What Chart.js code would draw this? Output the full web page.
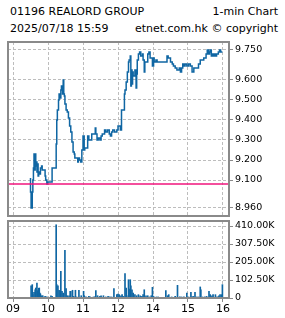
<!DOCTYPE html>
<html><head><meta charset="utf-8">
<script src="https://cdn.jsdelivr.net/npm/chart.js@4/dist/chart.umd.min.js"></script>
<style>
html,body{margin:0;padding:0;background:#fff;width:285px;height:318px;overflow:hidden}
#wrap{position:relative;width:285px;height:318px;font-family:"DejaVu Sans",sans-serif;}
.t{position:absolute;font-size:11px;color:#000;white-space:nowrap;line-height:13px}
canvas{position:absolute;left:0;top:0}
</style></head><body>
<div id="wrap">
<div class="t" style="left:10px;top:5px">01196 REALORD GROUP</div>
<div class="t" style="right:7px;top:5px">1-min Chart</div>
<div class="t" style="left:10px;top:22px">2025/07/18 15:59</div>
<div class="t" style="right:7px;top:22px">etnet.com.hk © copyright</div>
<canvas id="p" width="285" height="318"></canvas>
<canvas id="v" width="285" height="318"></canvas>
</div>
<script>
const priceTimes = ['09:30','09:31','09:33','09:34','09:35','09:36','09:37','09:38','09:39','09:40','09:41','09:42','09:43','09:44','09:45','09:47','09:49','09:50','09:55','09:56','09:58','09:59','10:07','10:14','10:15','10:16','10:18','10:19','10:21','10:22','10:23','10:25','10:26','10:27','10:28','10:29','10:31','10:33','10:35','10:37','10:39','10:41','10:43','10:45','10:46','10:51','10:52','10:54','10:56','10:58','11:00','11:02','11:03','11:08','11:10','11:15','11:21','11:22','11:24','11:26','11:29','11:31','11:33','11:37','11:39','11:42','11:45','11:47','11:49','11:51','11:54','11:58','12:00','13:04','13:06','13:11','13:12','13:14','13:16','13:18','13:19','13:21','13:22','13:23','13:24','13:25','13:26','13:29','13:31','13:32','13:33','13:35','13:37','13:39','13:42','13:43','13:45','13:46','13:51','13:53','13:55','13:59','14:01','14:02','14:05','14:07','14:24','14:26','14:30','14:33','14:35','14:38','14:41','14:45','14:47','14:49','14:51','14:53','14:55','14:58','15:01','15:04','15:07','15:10','15:18','15:21','15:27','15:31','15:33','15:35','15:37','15:38','15:40','15:42','15:43','15:45','15:47','15:49','15:52','15:54','15:56','15:58','15:59','16:00'];
const prices = [9.11,9.04,8.96,9.04,9.10,9.16,9.23,9.15,9.23,9.17,9.19,9.14,9.18,9.12,9.14,9.13,9.16,9.17,9.15,9.12,9.10,9.08,9.09,9.16,9.28,9.40,9.45,9.50,9.53,9.51,9.55,9.57,9.53,9.60,9.53,9.52,9.48,9.45,9.44,9.41,9.37,9.34,9.29,9.24,9.23,9.21,9.19,9.21,9.20,9.19,9.25,9.32,9.25,9.26,9.32,9.30,9.33,9.36,9.33,9.30,9.31,9.30,9.32,9.33,9.35,9.34,9.35,9.33,9.32,9.34,9.35,9.34,9.35,9.37,9.35,9.45,9.53,9.55,9.59,9.64,9.69,9.70,9.72,9.57,9.65,9.58,9.64,9.62,9.65,9.56,9.63,9.70,9.73,9.74,9.72,9.73,9.70,9.64,9.69,9.73,9.74,9.71,9.67,9.71,9.69,9.70,9.69,9.72,9.71,9.69,9.68,9.67,9.66,9.65,9.66,9.64,9.66,9.68,9.67,9.68,9.67,9.68,9.67,9.64,9.66,9.68,9.70,9.71,9.73,9.75,9.73,9.74,9.75,9.72,9.73,9.72,9.73,9.72,9.73,9.74,9.75,9.74,9.74];
const prevClose = 9.08;
const volTimes = ['09:31','09:33','09:34','09:36','09:38','09:39','09:41','09:42','09:44','09:45','09:46','09:47','09:49','09:51','09:55','09:58','10:05','10:07','10:14','10:15','10:17','10:19','10:21','10:22','10:24','10:26','10:29','10:31','10:33','10:36','10:38','10:39','10:42','10:44','10:47','10:49','10:53','10:57','11:01','11:02','11:05','11:10','11:12','11:18','11:21','11:22','11:25','11:29','11:31','11:35','11:39','11:43','11:46','11:49','11:53','11:58','12:00','13:02','13:05','13:07','13:09','13:12','13:14','13:15','13:18','13:19','13:21','13:22','13:24','13:26','13:29','13:32','13:35','13:38','13:41','13:43','13:45','13:48','13:51','13:54','13:57','13:59','14:01','14:06','14:09','14:22','14:25','14:27','14:32','14:38','14:42','14:46','14:49','14:53','14:58','15:01','15:05','15:07','15:09','15:12','15:15','15:18','15:21','15:22','15:25','15:29','15:32','15:36','15:38','15:41','15:43','15:47','15:50','15:53','15:55','15:58','15:59'];
const volumesK = [70,76,19,32,47,57,85,42,55,57,28,23,13,13,9,6,13,9,417,76,70,44,38,152,38,28,271,53,13,13,38,38,44,9,44,6,44,13,38,13,6,9,6,6,9,42,13,9,13,13,6,9,6,6,53,19,23,19,13,19,9,139,57,13,104,51,104,70,47,28,19,13,19,13,9,19,47,13,13,6,13,61,9,6,6,42,13,19,6,9,72,6,6,6,28,6,32,6,9,32,6,6,63,47,6,6,9,38,19,13,19,19,6,13,19,19,76];
const xTickTimes = ['09:00','10:00','11:00','12:00','14:00','15:00','16:00'];
const xTickLabels = ['09','10','11','12','14','15','16'];
const priceTicks = [8.96,9.1,9.2,9.3,9.4,9.5,9.6,9.75];
const volTicksK = [0,102.5,205,307.5,410];

function idx(t){const [h,m]=t.split(':').map(Number);return h<13?(h-9)*60+m:(h-10)*60+m;}
const X_MIN=-8.6, X_MAX=370.3;
const BLUE='#0f66a3', GRID='#bdbdbd', FRAME='#8a8a8a', PINK='#f0147c';
const xTickIdx = xTickTimes.map(idx);

const frame = {id:'frame',afterDraw(c){const a=c.chartArea,ctx=c.ctx;ctx.save();ctx.strokeStyle=FRAME;ctx.lineWidth=2;ctx.strokeRect(a.left,a.top,a.right-a.left,a.bottom-a.top);ctx.restore();}};

function xScale(showLabels){
  return {type:'linear',min:X_MIN,max:X_MAX,offset:false,
    afterBuildTicks:s=>{s.ticks=xTickIdx.map(v=>({value:v}));},
    afterFit:s=>{s.height=showLabels?20:0;},
    grid:{color:GRID,lineWidth:1,offset:false,drawTicks:showLabels,tickLength:4,tickColor:FRAME,tickBorderDash:[]},
    border:{display:false,dash:[3,2]},
    ticks:{display:showLabels,autoSkip:false,maxRotation:0,padding:1,color:'#000',font:{family:'DejaVu Sans',size:11},
      callback:v=>{const i=xTickIdx.indexOf(v);return i>=0?xTickLabels[i]:'';}}};
}
const yFont = {family:'DejaVu Sans',size:9.5};

new Chart(document.getElementById('p'),{
  type:'line',
  data:{datasets:[
    {data:[{x:X_MIN,y:prevClose},{x:X_MAX,y:prevClose}],borderColor:PINK,borderWidth:1.5,pointRadius:0,order:0},
    {data:priceTimes.map((t,i)=>({x:idx(t),y:prices[i]})),borderColor:BLUE,borderWidth:1.5,pointRadius:0,stepped:'after',order:1}
  ]},
  options:{responsive:false,animation:false,events:[],
    layout:{padding:{left:8,top:42,bottom:102,right:0}},
    plugins:{legend:{display:false},tooltip:{enabled:false}},
    scales:{
      x:xScale(false),
      y:{position:'right',min:8.92,max:9.79,
        afterBuildTicks:s=>{s.ticks=priceTicks.map(v=>({value:v}));},
        afterFit:s=>{s.width=56;},
        grid:{color:GRID,tickLength:4,tickColor:FRAME,tickBorderDash:[]},
        border:{display:false,dash:[3,2]},
        ticks:{padding:2,color:'#000',font:yFont,callback:v=>v.toFixed(3)}}
    }},
  plugins:[frame]
});

new Chart(document.getElementById('v'),{
  type:'bar',
  data:{datasets:[{data:volTimes.map((t,i)=>({x:idx(t),y:volumesK[i]})),backgroundColor:BLUE,barThickness:1,borderWidth:0}]},
  options:{responsive:false,animation:false,events:[],
    layout:{padding:{left:8,top:221,bottom:0,right:0}},
    plugins:{legend:{display:false},tooltip:{enabled:false}},
    scales:{
      x:xScale(true),
      y:{position:'right',min:0,max:438.5,
        afterBuildTicks:s=>{s.ticks=volTicksK.map(v=>({value:v}));},
        afterFit:s=>{s.width=56;},
        grid:{color:GRID,tickLength:4,tickColor:FRAME,tickBorderDash:[]},
        border:{display:false,dash:[3,2]},
        ticks:{padding:2,color:'#000',font:yFont,callback:v=>v===0?'0':v.toFixed(2)+'K'}}
    }},
  plugins:[frame]
});
</script>
</body></html>
